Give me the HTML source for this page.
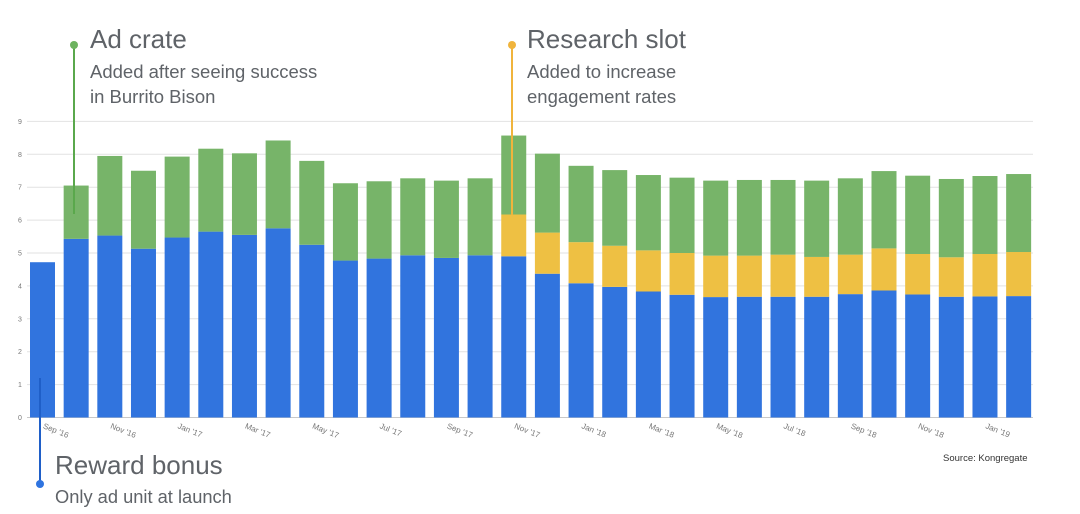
<!DOCTYPE html>
<html><head><meta charset="utf-8"><style>
body{margin:0;background:#fff;width:1080px;height:514px;overflow:hidden;font-family:"Liberation Sans",sans-serif}
svg{display:block}
</style></head><body>
<svg id="chart" width="1080" height="514">
<g id="grid"></g><g id="bars"></g><g id="xlabels"></g><g id="annot"></g>
</svg>
<script>
const months=["Sep '16","Oct '16","Nov '16","Dec '16","Jan '17","Feb '17","Mar '17","Apr '17","May '17","Jun '17","Jul '17","Aug '17","Sep '17","Oct '17","Nov '17","Dec '17","Jan '18","Feb '18","Mar '18","Apr '18","May '18","Jun '18","Jul '18","Aug '18","Sep '18","Oct '18","Nov '18","Dec '18","Jan '19","Feb '19"];
const rewardBonus=[4.72,5.43,5.53,5.13,5.47,5.65,5.55,5.75,5.25,4.77,4.83,4.93,4.85,4.93,4.9,4.37,4.08,3.97,3.83,3.73,3.66,3.67,3.67,3.67,3.75,3.86,3.74,3.67,3.68,3.69];
const researchSlot=[0,0,0,0,0,0,0,0,0,0,0,0,0,0,1.27,1.25,1.25,1.25,1.25,1.27,1.26,1.25,1.28,1.21,1.2,1.28,1.23,1.2,1.29,1.34];
const adCrate=[0,1.62,2.42,2.37,2.46,2.52,2.48,2.67,2.55,2.35,2.35,2.34,2.35,2.34,2.4,2.4,2.32,2.3,2.29,2.29,2.28,2.3,2.27,2.32,2.32,2.35,2.38,2.38,2.37,2.37];
const yTicks=[0,1,2,3,4,5,6,7,8,9];
const NS="http://www.w3.org/2000/svg";
const y0=417.5,unit=32.9,x0=42.5,step=33.66,bw=25;
const y=v=>y0-v*unit, x=i=>x0+i*step;
function mk(t,a,p){const e=document.createElementNS(NS,t);for(const k in a)e.setAttribute(k,a[k]);p.appendChild(e);return e;}
const grid=document.getElementById('grid');
yTicks.forEach(t=>{
 const l=mk('line',{x1:27,x2:1033,y1:y(t),y2:y(t),stroke:t===0?'#c8c8c8':'#e2e2e2','stroke-width':1},grid);
 
 
 const tx=mk('text',{x:20,y:y(t)+2.5,'font-size':7,fill:'#777','text-anchor':'middle'},grid);
 tx.textContent=t;
 
 
});
const bars=document.getElementById('bars');
const series=[[rewardBonus,'#3174de','reward-bonus'],[researchSlot,'#eec043','research-slot'],[adCrate,'#77b469','ad-crate']];
months.forEach((m,i)=>{
 let acc=0;
 series.forEach(([arr,c,n])=>{
  const v=arr[i]; if(v<=0)return;
  const r=mk('rect',{x:x(i)-bw/2,y:y(acc+v),width:bw,height:v*unit,fill:c},bars);
  
  
  acc+=v;
 });
 if(i%2===0){
  const tx=mk('text',{x:x(i),y:428,'font-size':8,fill:'#777',transform:`rotate(22 ${x(i)} 428)`},document.getElementById('xlabels'));
  tx.textContent=m;
  
  
 }
});
</script>
<svg style="position:absolute;left:0;top:0" width="1080" height="514">
<g>
<line x1="74" y1="45" x2="74" y2="214" stroke="#5aa84c" stroke-width="2"/>
<circle cx="74" cy="45" r="4" fill="#6db35f"/>
<text x="90" y="48" font-size="26" fill="#5f6368">Ad crate</text>
<text x="90" y="78" font-size="18.5" fill="#5f6368">Added after seeing success</text>
<text x="90" y="103" font-size="18.5" fill="#5f6368">in Burrito Bison</text>
</g>
<g>
<line x1="512" y1="45" x2="512" y2="215" stroke="#f0b43c" stroke-width="2"/>
<circle cx="512" cy="45" r="4" fill="#f0b43c"/>
<text x="527" y="48" font-size="26" fill="#5f6368">Research slot</text>
<text x="527" y="78" font-size="18.5" fill="#5f6368">Added to increase</text>
<text x="527" y="103" font-size="18.5" fill="#5f6368">engagement rates</text>
</g>
<g>
<line x1="40" y1="378" x2="40" y2="484" stroke="#1f5fc8" stroke-width="2"/>
<circle cx="40" cy="484" r="4" fill="#2f74e0"/>
<text x="55" y="474" font-size="26" fill="#5f6368">Reward bonus</text>
<text x="55" y="503" font-size="18.3" fill="#5f6368">Only ad unit at launch</text>
</g>
<text x="943" y="461" font-size="9.5" fill="#333">Source: Kongregate</text>
</svg>
</body></html>
